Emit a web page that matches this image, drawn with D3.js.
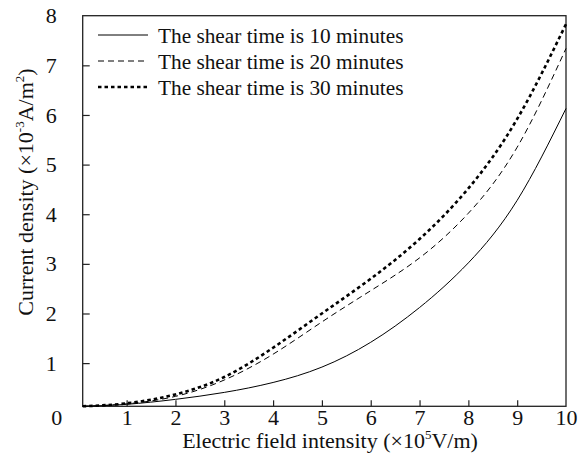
<!DOCTYPE html>
<html lang="en">
<head>
    <meta charset="UTF-8">
    <title>Current density</title>
    <script src="https://cdn.jsdelivr.net/npm/d3@7"></script>
    <style>
        body { margin: 0; background: #fff; }
        text { font-family: "Liberation Serif", "Times New Roman", serif; fill: #111; }
    </style>
</head>
<body>
<svg width="581" height="453" id="svgcontainer"></svg>
<script>
    // field intensity (x10^5 V/m)
    const xValues = [0.1, 1, 2, 3, 4, 5, 6, 7, 8, 9, 10];
    // current density (x10^-3 A/m^2)
    const shear10 = [0.13, 0.17, 0.27, 0.41, 0.61, 0.92, 1.42, 2.12, 3.02, 4.28, 6.13];
    const shear20 = [0.13, 0.18, 0.33, 0.66, 1.18, 1.83, 2.46, 3.12, 4.02, 5.35, 7.34];
    const shear30 = [0.13, 0.19, 0.37, 0.72, 1.31, 2.00, 2.70, 3.50, 4.52, 5.92, 7.83];
    const seriesNames = ['The shear time is 10 minutes', 'The shear time is 20 minutes', 'The shear time is 30 minutes'];
    const xTicks = [1, 2, 3, 4, 5, 6, 7, 8, 9, 10];
    const yTicks = [1, 2, 3, 4, 5, 6, 7, 8];

    const svg = d3.select('#svgcontainer');
    const margin = {top: 15.7, right: 15, bottom: 46.7, left: 82.7};
    const width = +svg.attr('width');
    const height = +svg.attr('height');
    const innerWidth = width - margin.left - margin.right;
    const innerHeight = height - margin.top - margin.bottom;
    const fontSize = '22px';

    const xScale = d3.scaleLinear().domain([0.1, 10]).range([0, innerWidth]);
    const yScale = d3.scaleLinear().domain([0.13, 8]).range([innerHeight, 0]);

    const g = svg.append('g').attr('transform', `translate(${margin.left},${margin.top})`);

    // frame
    g.append('rect').attr('width', innerWidth).attr('height', innerHeight)
        .attr('fill', 'none').attr('stroke', '#222').attr('stroke-width', 1.3);

    const xAxis = d3.axisBottom(xScale).tickValues(xTicks).tickSize(-6).tickPadding(3).tickFormat(d3.format('d'));
    const yAxis = d3.axisLeft(yScale).tickValues(yTicks).tickSize(-7).tickPadding(26).tickFormat(d3.format('d'));

    const gx = g.append('g').attr('transform', `translate(0,${innerHeight})`).call(xAxis);
    const gy = g.append('g').call(yAxis);
    [gx, gy].forEach(a => {
        a.select('.domain').remove();
        a.selectAll('.tick line').attr('stroke', '#222').attr('stroke-width', 1.2);
        a.selectAll('.tick text').attr('font-size', fontSize).attr('fill', '#111')
            .style('font-family', '"Liberation Serif", "Times New Roman", serif');
    });
    gy.selectAll('.tick').filter(d => d === 8).select('line').remove();
    gx.selectAll('.tick').filter(d => d === 10).select('line').remove();

    // origin label
    g.append('text').text('0')
        .attr('x', xScale(0.1) - 26).attr('y', innerHeight + 19)
        .attr('text-anchor', 'middle').attr('font-size', fontSize);

    // lines
    const series = [
        {name: seriesNames[0], values: shear10, dash: null, w: 1},
        {name: seriesNames[1], values: shear20, dash: '6,4', w: 1},
        {name: seriesNames[2], values: shear30, dash: '3.5,3', w: 2.6}
    ];
    const line = d3.line().x(d => xScale(d[0])).y(d => yScale(d[1])).curve(d3.curveNatural);
    series.forEach(s => {
        g.append('path').datum(xValues.map((x, i) => [x, s.values[i]]))
            .attr('d', line).attr('fill', 'none').attr('stroke', '#000')
            .attr('stroke-width', s.w).attr('stroke-dasharray', s.dash);
    });

    // legend
    const legend = g.append('g').attr('transform', 'translate(15.3,19.3)');
    series.forEach((s, i) => {
        const row = legend.append('g').attr('transform', `translate(0,${i * 26})`);
        row.append('line').attr('x1', 0).attr('x2', 50).attr('y1', 0).attr('y2', 0)
            .attr('stroke', '#000').attr('stroke-width', s.w).attr('stroke-dasharray', s.dash);
        row.append('text').text(s.name).attr('x', 60).attr('y', 7.5).attr('font-size', '21.3px');
    });

    // axis titles
    const xt = svg.append('text').attr('x', 330).attr('y', 448)
        .attr('text-anchor', 'middle').attr('font-size', fontSize);
    xt.append('tspan').text('Electric field intensity (\u00d710');
    xt.append('tspan').text('5').attr('font-size', '13px').attr('dy', -9);
    xt.append('tspan').text('V/m)').attr('dy', 9);

    const yt = svg.append('text').attr('transform', 'translate(33,192) rotate(-90)')
        .attr('text-anchor', 'middle').attr('font-size', fontSize);
    yt.append('tspan').text('Current density (\u00d710');
    yt.append('tspan').text('-3').attr('font-size', '13px').attr('dy', -9);
    yt.append('tspan').text('A/m').attr('dy', 9);
    yt.append('tspan').text('2').attr('font-size', '13px').attr('dy', -9);
    yt.append('tspan').text(')').attr('dy', 9);
</script>
</body>
</html>
